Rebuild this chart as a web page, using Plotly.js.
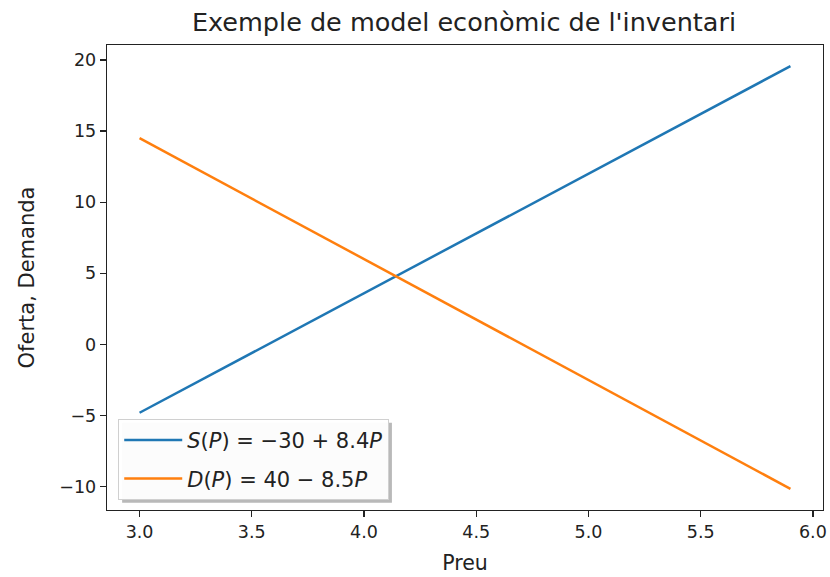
<!DOCTYPE html>
<html>
<head>
<meta charset="utf-8">
<script src="https://cdn.plot.ly/plotly-3.0.1.min.js"></script>
<style>html,body{margin:0;padding:0;background:#fff;}#chart{width:830px;height:577px;}</style>
</head>
<body>
<div id="chart"></div>
<script>
// Price values (x) and the two curves
const preu = [3.0, 3.5, 4.0, 4.5, 5.0, 5.5, 5.9];
const oferta = [-4.8, -0.6, 3.6, 7.8, 12.0, 16.2, 19.56];
const demanda = [14.5, 10.25, 6.0, 1.75, -2.5, -6.75, -10.15];
const seriesNames = ["<i>S</i>(<i>P</i>) = −30 + 8.4<i>P</i>", "<i>D</i>(<i>P</i>) = 40 − 8.5<i>P</i>"];
const xTicks = [3.0, 3.5, 4.0, 4.5, 5.0, 5.5, 6.0];
const xTickText = ["3.0", "3.5", "4.0", "4.5", "5.0", "5.5", "6.0"];
const yTicks = [-10, -5, 0, 5, 10, 15, 20];
const yTickText = ["−10", "−5", "0", "5", "10", "15", "20"];

const font = "DejaVu Sans, sans-serif";
const traces = [
  {x: preu, y: oferta, name: seriesNames[0], legendgroup: "s", mode: "lines", line: {color: "#1f77b4", width: 2.5}},
  {x: preu, y: demanda, name: seriesNames[1], legendgroup: "d", mode: "lines", line: {color: "#ff7f0e", width: 2.5}}
];
const axisCommon = {
  showgrid: false, zeroline: false, showline: true, mirror: true,
  linecolor: "#222", linewidth: 1.3, ticks: "outside", ticklen: 6, tickwidth: 1.3,
  tickcolor: "#222", tickfont: {family: font, size: 17.5, color: "#222"}
};
const layout = {
  width: 830, height: 577,
  margin: {l: 107, r: 7, t: 45, b: 67},
  paper_bgcolor: "#fff", plot_bgcolor: "#fff",
  title: {text: "Exemple de model econòmic de l'inventari", font: {family: font, size: 25.5, color: "#222"}, x: 0.559, xanchor: "center", y: 0.962, yanchor: "middle"},
  xaxis: Object.assign({}, axisCommon, {range: [2.855, 6.045], tickvals: xTicks, ticktext: xTickText,
    title: {text: "Preu", font: {family: font, size: 20.5, color: "#222"}, standoff: 14}}),
  yaxis: Object.assign({}, axisCommon, {range: [-11.6355, 21.0455], tickvals: yTicks, ticktext: yTickText,
    title: {text: "Oferta, Demanda", font: {family: font, size: 21, color: "#222"}, standoff: 19}}),
  showlegend: true,
  legend: {x: 0.0154, y: 0.022, xanchor: "left", yanchor: "bottom", bgcolor: "rgba(255,255,255,0.95)",
    bordercolor: "#d0d0d0", borderwidth: 1.2, font: {family: font, size: 21, color: "#222"},
    itemwidth: 58, tracegroupgap: 8}
};
Plotly.newPlot("chart", traces, layout, {displayModeBar: false, staticPlot: true}).then(function (gd) {
  const bg = gd.querySelector(".legend .bg");
  if (!bg) return;
  const r = bg.getBoundingClientRect();
  const c = gd.getBoundingClientRect();
  const fl = gd._fullLayout, m = fl.margin;
  const pw = fl.width - m.l - m.r, ph = fl.height - m.t - m.b;
  const off = 3.5;
  const toX = px => (px - c.left - m.l) / pw;
  const toY = py => 1 - (py - c.top - m.t) / ph;
  Plotly.relayout(gd, {shapes: [{type: "rect", xref: "paper", yref: "paper",
    x0: toX(r.left + off), x1: toX(r.right + off), y0: toY(r.bottom + off), y1: toY(r.top + off),
    fillcolor: "rgba(100,100,100,0.45)", line: {width: 0}, layer: "above"}]});
});
</script>
</body>
</html>
